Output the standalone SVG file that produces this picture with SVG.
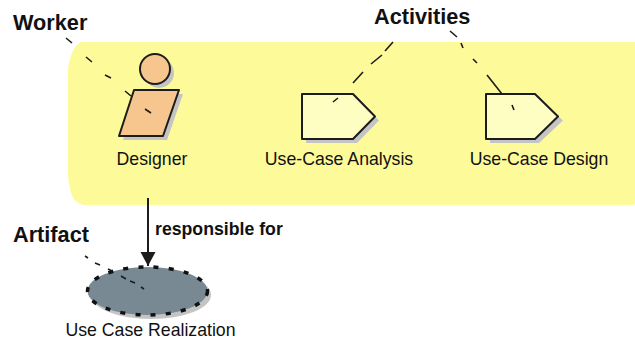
<svg xmlns="http://www.w3.org/2000/svg" width="635" height="341" viewBox="0 0 635 341">
<defs>
<style>
text{font-family:"Liberation Sans",Arial,sans-serif;fill:#111}
.b{font-weight:bold}
.l{font-size:17.700px}
.h{font-size:21.700px;font-weight:bold}
.s{stroke:#1c1c1c;stroke-width:2;stroke-linejoin:round}
.sh{fill:#c4c4c4}
.lead{fill:none;stroke:#1c1c1c;stroke-width:1.600}
</style>
<marker id="ah" markerUnits="userSpaceOnUse" markerWidth="15" markerHeight="16" refX="14" refY="7.500" orient="auto"><path d="M0 0L14 7.500L0 15Z" fill="#1c1c1c"/></marker>
</defs>
<rect width="635" height="341" fill="#fff"/>
<path id="panel" d="M81 42H635V203Q635 205 633 205H84Q72 203 70 188Q68 180 68 175V70Q69 60 72 53Q75 45 81 42Z" fill="#fdfb99"/>
<g id="worker">
<circle cx="159" cy="73" r="15" class="sh"/>
<path d="M138 94H183L167 140H123Z" class="sh"/>
<circle cx="155" cy="69" r="15" fill="#f6c68e" class="s"/>
<path d="M134 90H179L163 136H119Z" fill="#f6c68e" class="s"/>
<text x="152" y="165" text-anchor="middle" class="l">Designer</text>
</g>
<g id="analysis">
<path d="M306 98H357L379 120.500L357 143H306Z" class="sh"/>
<path d="M302 94H353L375 116.500L353 139H302Z" fill="#fefdc2" class="s"/>
<text x="339" y="165" text-anchor="middle" class="l">Use-Case Analysis</text>
</g>
<g id="design">
<path d="M490 98H539L563 120.500L539 143H490Z" class="sh"/>
<path d="M486 94H535L558 116.500L535 139H486Z" fill="#fefdc2" class="s"/>
<text x="539" y="165" text-anchor="middle" class="l">Use-Case Design</text>
</g>
<g id="artifact">
<ellipse cx="151" cy="295" rx="60" ry="24" class="sh"/>
<ellipse cx="147.500" cy="291" rx="60" ry="24" fill="#788993" stroke="#111" stroke-width="3.500" stroke-dasharray="5 10.200"/>
<text x="150.500" y="336" text-anchor="middle" class="l">Use Case Realization</text>
</g>
<g id="labels">
<text x="13" y="30" class="h">Worker</text>
<text x="374" y="24" class="h">Activities</text>
<text x="13" y="242" class="h">Artifact</text>
<text x="155" y="235" class="b" font-size="17.700">responsible for</text>
</g>
<g id="connectors">
<path d="M148 198V266" stroke="#1c1c1c" stroke-width="2" fill="none" marker-end="url(#ah)"/>
<path class="lead" d="M66 38L72 43M86 57L92 62M105 75L111 78M125 91L131 96M145 109L151 113"/>
<path class="lead" d="M393 42L385 51M382 55L371 64M363 72L353 83M338 98L333 102"/>
<path class="lead" d="M450 31L457 37M461 43L463 48M473 59L477 63M487 75L502 94M512 105L514 110"/>
<path class="lead" d="M85 256L88 258M95 263L100 265M108 269L112 271M121 276L126 279M130 281L135 283M141 287L144 289"/>
</g>
</svg>
